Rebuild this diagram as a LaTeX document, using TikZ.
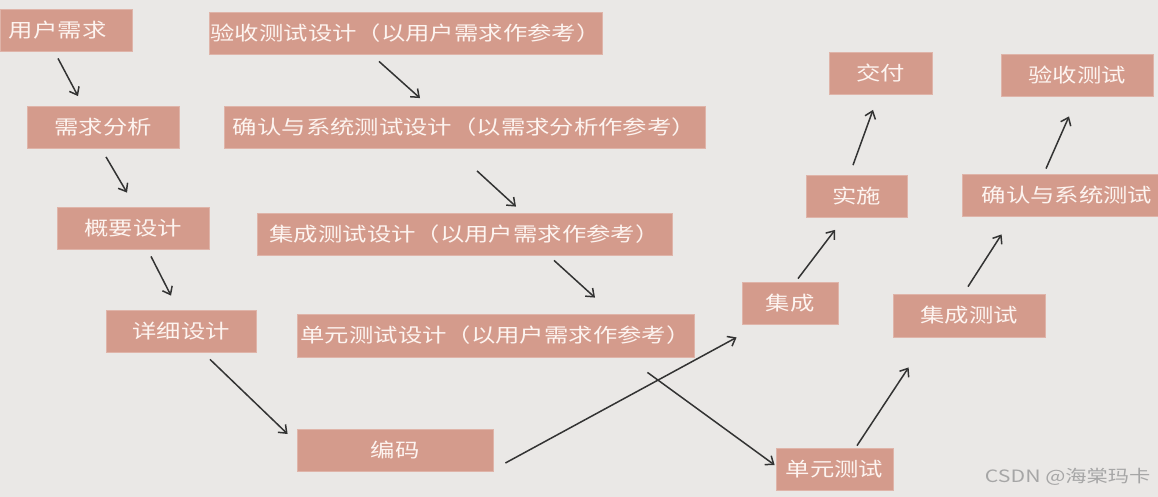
\documentclass[tikz,border=0pt]{standalone}
\usepackage{fontspec}
\newfontfamily\cjk[FakeStretch=1.25]{Noto Sans CJK SC}
\usetikzlibrary{arrows.meta}
\definecolor{bgcol}{RGB}{234,232,230}
\definecolor{boxcol}{RGB}{212,155,140}
\definecolor{txtcol}{RGB}{253,244,240}
\tikzset{
  stage/.style = {
    fill=boxcol, draw=boxcol!75!white, line width=0.8,
    text=txtcol, font=\cjk\fontsize{19.5}{22}\selectfont,
    inner sep=0pt, minimum height=42
  },
  arr/.style = {
    draw=black!80, line width=1.5,
    -{Straight Barb[length=7,width=11,line width=1.5]} % open arrow head
  }
}

\begin{document}
\begin{tikzpicture}[x=1pt,y=-1pt]
\fill[bgcol] (0,0) rectangle (1158,497);
\useasboundingbox (0,0) rectangle (1158,497);

% left branch: design
\node[stage, minimum width=132, text width=114, inner xsep=9, align=left] (ur) at (66,30) {用户需求};
\node[stage, minimum width=152] (xq) at (103,127.5) {需求分析};
\node[stage, minimum width=152] (gy) at (133,228) {概要设计};
\node[stage, minimum width=150] (xx) at (181,331) {详细设计};
\node[stage, minimum width=196] (bm) at (395,450) {编码};

% test design
\node[stage, minimum width=393] (ys) at (405.5,33) {验收测试设计（以用户需求作参考）};
\node[stage, minimum width=481] (qs) at (464.5,127.5) {确认与系统测试设计（以需求分析作参考）};
\node[stage, minimum width=415] (jc) at (464.5,234) {集成测试设计（以用户需求作参考）};
\node[stage, minimum width=397, minimum height=43] (dy) at (495.5,335.5) {单元测试设计（以用户需求作参考）};

% right branch
\node[stage, minimum width=96] (ji) at (790,303) {集成};
\node[stage, minimum width=101] (ss) at (856.5,196.5) {实施};
\node[stage, minimum width=103] (jf) at (880.5,73.5) {交付};
\node[stage, minimum width=117] (dc) at (834.5,469) {单元测试};
\node[stage, minimum width=152, minimum height=43] (jcs) at (969,315.5) {集成测试};
\node[stage, minimum width=196] (qxs) at (1060,195) {\hspace{14pt}确认与系统测试};
\node[stage, minimum width=152] (yc) at (1077,75) {验收测试};

\draw[arr] ([shift={(-8,7)}]ur.south) -- ([shift={(-25,-10)}]xq.north);
\draw[arr] ([shift={(3,8)}]xq.south) -- ([shift={(-6,-14)}]gy.north);
\draw[arr] ([shift={(18,7)}]gy.south) -- ([shift={(-10,-14)}]xx.north);
\draw[arr] ([shift={(29,7)}]xx.south) -- ([shift={(-9,-16)}]bm.west);
\draw[arr] ([shift={(-26.5,7)}]ys.south) -- ([shift={(-44.5,-8)}]qs.north);
\draw[arr] ([shift={(12.5,22)}]qs.south) -- ([shift={(51.5,-6)}]jc.north);
\draw[arr] ([shift={(89.5,5)}]jc.south) -- ([shift={(99.5,-16)}]dy.north);
\draw[arr] ([shift={(12,13)}]bm.east) -- ([shift={(-5,13)}]ji.south west);
\draw[arr] ([shift={(-47,15)}]dy.south east) -- ([shift={(-1,-4)}]dc.west);
\draw[arr] ([shift={(8,-3)}]ji.north) -- ([shift={(-21.5,12)}]ss.south);
\draw[arr] ([shift={(-3.5,-10)}]ss.north) -- ([shift={(-7.5,15)}]jf.south);
\draw[arr] ([shift={(22.5,-2)}]dc.north) -- ([shift={(16,30)}]jcs.south west);
\draw[arr] ([shift={(-1,-7)}]jcs.north) -- ([shift={(40,18)}]qxs.south west);
\draw[arr] ([shift={(-14,-5)}]qxs.north) -- ([shift={(-8,20)}]yc.south);

% watermark
\node[text=black!35, font=\cjk\fontsize{17}{19}\selectfont, anchor=east] (wm) at (1154,477) {CSDN @海棠玛卡};
\end{tikzpicture}
\end{document}
